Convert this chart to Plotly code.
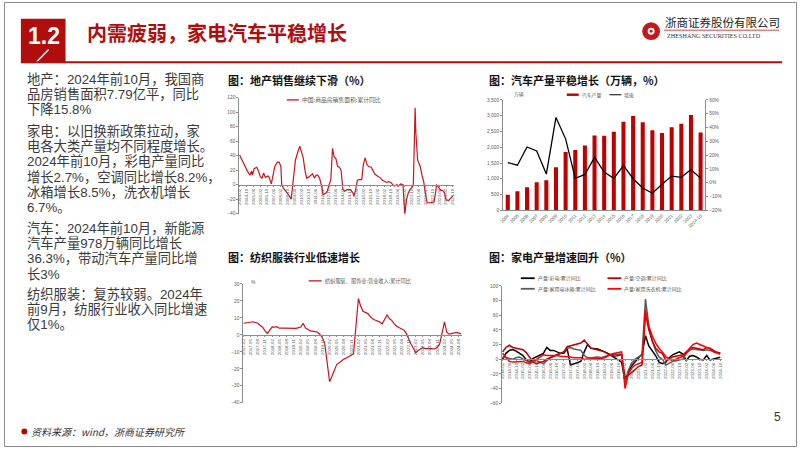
import plotly.graph_objects as go

W, H = 802, 451
def X(p): return p / W
def Y(p): return 1 - p / H

# ---------------- data ----------------
house_dates = [
    "2004-02", "2004-05", "2004-08", "2004-11",
    "2005-02", "2005-04", "2005-05", "2005-07", "2005-10", "2005-12",
    "2006-02", "2006-04", "2006-06", "2006-08", "2006-11", "2006-12",
    "2007-03", "2007-05", "2007-07", "2007-10", "2007-12",
    "2008-02", "2008-03", "2008-05", "2008-08", "2008-11",
    "2009-02", "2009-03", "2009-05", "2009-07", "2009-10", "2009-12",
    "2010-02", "2010-04", "2010-06", "2010-08", "2010-10", "2010-12",
    "2011-03", "2011-05", "2011-07", "2011-09", "2011-11",
    "2012-02", "2012-03", "2012-06", "2012-08", "2012-10", "2012-12",
    "2013-02", "2013-04", "2013-06", "2013-08", "2013-10", "2013-12",
    "2014-02", "2014-04", "2014-07", "2014-11",
    "2015-02", "2015-03", "2015-05", "2015-07", "2015-09", "2015-12",
    "2016-02", "2016-04", "2016-06", "2016-08", "2016-11", "2016-12",
    "2017-03", "2017-05", "2017-08", "2017-10", "2017-12",
    "2018-03", "2018-05", "2018-07", "2018-10", "2018-12",
    "2019-02", "2019-05", "2019-07", "2019-09", "2019-11", "2019-12",
    "2020-02", "2020-04", "2020-06", "2020-08", "2020-11", "2020-12",
    "2021-02", "2021-03", "2021-05", "2021-08", "2021-10", "2021-12",
    "2022-02", "2022-04", "2022-07", "2022-10", "2022-12",
    "2023-02", "2023-03", "2023-05", "2023-08", "2023-10", "2023-12",
    "2024-02", "2024-05", "2024-07", "2024-10",
]
house_yoy = [
    41, 34, 25, 19,
    13, 19, 13, 22, 24, 19,
    11, 9, 16, 10, 12, 11,
    1, 13, 25, 31, 31,
    25, 0, -5, -9, -14,
    -20, -10, 13, 34, 46, 53,
    45, 37, 20, 9, 10, 12,
    15, 9, 13, 13, 9,
    -5, -14, -12, -9, 0, 6,
    50, 38, 36, 25, 24, 20,
    -6, -9, -7, -7,
    -12, -16, -7, 6, 7, 7,
    29, 37, 28, 25, 24, 22,
    15, 13, 11, 9, 6,
    4, 3, 4, 3, 0,
    -2, 0, -2, 1, 0, 0,
    -41, -21, -12, -7, -3, 1,
    106, 70, 34, 25, 13, 4,
    -12, -25, -25, -25, -24,
    -10, 0, -3, -8, -8, -11,
    -21, -22, -19, -15.8,
]

car_years = ["2004", "2005", "2006", "2007", "2008", "2009", "2010", "2011", "2012", "2013",
             "2014", "2015", "2016", "2017", "2018", "2019", "2020", "2021", "2022", "2023", "2024-10"]
car_output = [491, 606, 731, 888, 951, 1369, 1849, 1912, 2058, 2372,
              2361, 2487, 2810, 2988, 2790, 2539, 2455, 2633, 2748, 3019, 2466]
car_growth = [14.6, 12.7, 25.9, 23.0, 6.3, 47.3, 31.8, 3.2, 6.0, 18.4,
              7.7, 3.2, 12.5, 2.9, -3.8, -7.6, -1.1, 4.8, 3.9, 9.6, 3.2]

tex_dates = [
    "2017-02", "2017-04", "2017-06", "2017-08", "2017-09", "2017-10", "2017-11", "2017-12",
    "2018-02", "2018-03", "2018-04", "2018-05", "2018-07", "2018-09", "2018-11", "2018-12",
    "2019-02", "2019-03", "2019-04", "2019-05", "2019-06", "2019-08", "2019-09", "2019-10", "2019-11", "2019-12",
    "2020-02", "2020-03", "2020-04", "2020-05", "2020-06", "2020-07", "2020-08", "2020-09", "2020-10", "2020-11", "2020-12",
    "2021-02", "2021-03", "2021-04", "2021-05", "2021-06", "2021-07", "2021-08", "2021-09", "2021-10", "2021-11", "2021-12",
    "2022-02", "2022-03", "2022-04", "2022-05", "2022-06", "2022-07", "2022-08", "2022-09", "2022-10", "2022-11", "2022-12",
    "2023-02", "2023-03", "2023-04", "2023-05", "2023-06", "2023-07", "2023-08", "2023-09", "2023-10", "2023-11", "2023-12",
    "2024-02", "2024-03", "2024-04", "2024-05", "2024-06", "2024-07", "2024-08", "2024-09",
]
tex_yoy = [
    6.8, 7.2, 7.7, 6.8, 5.6, 4.5, 2.5, 0.8,
    4.7, 4.5, 4.8, 3.9, 3.9, 3.7, 3.5, 3.8,
    4.6, 6.8, 4.0, 2.9, 2.3, 1.9, 1.5, 0.2, -1.7, -5.0,
    -27.6, -24.5, -20.4, -17.5, -16.4, -15.1, -14.3, -13.6, -12.9, -12.0, -11.2,
    21.4, 17.0, 13.8, 13.0, 12.5, 10.8, 9.4, 8.7, 8.3, 7.5, 6.5,
    11.7, 9.6, 8.5, 6.6, 5.1, 4.3, 3.8, 2.9, 1.0, -2.5, -5.2,
    -10.5, -9.2, -8.4, -7.6, -8.1, -7.9, -8.0, -8.3, -8.2, -7.3, -5.5,
    7.6, 1.5, 0.4, 0.7, 1.2, 1.4, 1.0, 0.6,
]

app_dates = [
    "2014-02", "2014-04", "2014-06", "2014-08", "2014-10", "2014-12",
    "2015-02", "2015-04", "2015-06", "2015-08", "2015-10", "2015-12",
    "2016-02", "2016-04", "2016-06", "2016-08", "2016-10", "2016-12",
    "2017-02", "2017-04", "2017-06", "2017-08", "2017-10", "2017-12",
    "2018-02", "2018-04", "2018-06", "2018-08", "2018-10", "2018-12",
    "2019-02", "2019-04", "2019-06", "2019-08", "2019-10", "2019-12",
    "2020-02", "2020-04", "2020-06", "2020-08", "2020-10", "2020-12",
    "2021-02", "2021-04", "2021-06", "2021-08", "2021-10", "2021-12",
    "2022-02", "2022-04", "2022-06", "2022-08", "2022-10", "2022-12",
    "2023-02", "2023-04", "2023-06", "2023-08", "2023-10", "2023-12",
    "2024-02", "2024-04", "2024-06", "2024-08", "2024-10",
]
tv_yoy = [0, 8, 12, 13, 11, 8, 5, -1, -4, 1, 3, 5, 8, 16, 12, 12, 10, 8,
          8, 14, -8, -6, -4, -3, 10, 20, 15, 15, 14, 12, 10, 8, 5, 2, -1, -4,
          -30, -18, -9, -3, 2, 7, 32, 18, 12, 5, -4, -6, -4, 2, 6, 8, 10, 7,
          -2, 4, 5, 3, 0, -1, 5, -1, 0, 1, 2.7]
ac_yoy = [10, 16, 19, 16, 15, 14, 13, 9, 2, -4, -6, -5, -3, 0, 2, 4, 5, 8,
          10, 17, 18, 19, 20, 22, 26, 20, 15, 14, 13, 12, 10, 7, 5, 4, 5, 6,
          -25, -22, -18, -14, -10, -8, 62, 40, 25, 15, 10, 8, -2, 0, 3, 4, 5, 6,
          10, 14, 16, 15, 14, 13, 16, 15, 12, 9, 8.2]
fridge_yoy = [3, 2, 1, 0, 2, 3, 0, -2, -4, -3, -2, -4, -6, -2, 2, 4, 6, 8,
              10, 15, 16, 14, 13, 12, 5, 2, 2, 3, 3, 2, 3, 5, 6, 6, 7, 7,
              -32, -15, -5, 0, 3, 6, 82, 45, 25, 12, 3, 0, -8, -5, -3, -2, -1, 0,
              8, 12, 14, 13, 13, 12, 13, 12, 10, 9, 8.5]
washer_yoy = [8, 2, -3, -4, -4, -4, -3, -5, -6, -3, 0, 3, 6, 5, 5, 6, 5, 4,
              4, 3, 3, 2, 2, 2, 0, 0, 1, 1, 0, 1, 2, 5, 7, 8, 9, 10,
              -40, -20, -12, -8, -6, -4, 68, 45, 32, 22, 15, 10, 3, 0, -2, 0, 2, 4,
              8, 15, 20, 22, 20, 18, 17, 14, 10, 8, 6.7]

left_text = [
    ["地产：2024年前10月，我国商", "品房销售面积7.79亿平，同比", "下降15.8%"],
    ["家电：以旧换新政策拉动，家", "电各大类产量均不同程度增长。", "2024年前10月，彩电产量同比",
     "增长2.7%，空调同比增长8.2%，", "冰箱增长8.5%，洗衣机增长", "6.7%。"],
    ["汽车：2024年前10月，新能源", "汽车产量978万辆同比增长", "36.3%，带动汽车产量同比增", "长3%"],
    ["纺织服装：复苏较弱。2024年", "前9月，纺服行业收入同比增速", "仅1%。"],
]

# ---------------- styles ----------------
RED = "#C00000"
HRED = "#B00D0D"
TXT = "#3A3A3A"
TICK = "#595959"
AXC = "#8C8C8C"
CJK = "Noto Sans CJK SC"
LAT = "Liberation Sans"
MIX = "Liberation Sans, Noto Sans CJK SC"

fig = go.Figure()
fig.add_trace(go.Scatter(x=house_dates, y=house_yoy, mode="lines",
                         line=dict(color="#C8161D", width=1.2), xaxis="x", yaxis="y"))
fig.add_trace(go.Bar(x=car_years, y=car_output, marker=dict(color=RED, line=dict(width=0)),
                     xaxis="x2", yaxis="y2"))
fig.add_trace(go.Scatter(x=car_years, y=car_growth, mode="lines",
                         line=dict(color="black", width=1.3), xaxis="x2", yaxis="y3"))
fig.add_trace(go.Scatter(x=tex_dates, y=tex_yoy, mode="lines",
                         line=dict(color="#C8161D", width=1.2), xaxis="x3", yaxis="y4"))
for vals, col, wd in [(tv_yoy, "#000000", 1.5), (fridge_yoy, "#595959", 1.5),
                      (ac_yoy, "#C00000", 1.5), (washer_yoy, "#FF0000", 1.5)]:
    fig.add_trace(go.Scatter(x=app_dates, y=vals, mode="lines",
                             line=dict(color=col, width=wd), xaxis="x4", yaxis="y5"))


def ax(**kw):
    d = dict(showline=True, linecolor=AXC, linewidth=0.8, ticks="outside", ticklen=2,
             tickwidth=0.7, tickcolor=AXC, showgrid=False, zeroline=False,
             tickfont=dict(family=LAT, size=4.8, color=TICK), fixedrange=True)
    d.update(kw)
    return d

datefont = dict(family=LAT, size=4.4, color=TICK)

layout = dict(
    width=W, height=H, autosize=False,
    margin=dict(l=0, r=0, t=0, b=0),
    paper_bgcolor="white", plot_bgcolor="rgba(0,0,0,0)",
    showlegend=False, bargap=0.58,
    font=dict(family=CJK, color=TXT),
    xaxis=ax(type="date", domain=[X(237), X(453)], anchor="free", position=Y(184.7),
             range=["2004-01-20", "2024-10-25"], dtick="M8", tick0="2004-02-01",
             tickformat="%Y-%m", tickangle=-90, tickfont=datefont, ticklen=1.5),
    yaxis=ax(domain=[Y(214), Y(96.7)], range=[-40, 120], dtick=20, anchor="x"),
    xaxis2=ax(type="category", domain=[X(502.7), X(706.7)], anchor="y2", tickangle=-45,
              ticks="", tickfont=dict(family=LAT, size=4.6, color=TICK)),
    yaxis2=ax(domain=[Y(210.7), Y(99)], range=[0, 3500], dtick=500, tickformat=",", anchor="x2"),
    yaxis3=ax(overlaying="y2", side="right", range=[-20, 60], dtick=10, ticksuffix="%", anchor="x2"),
    xaxis3=ax(type="date", domain=[X(241), X(461)], anchor="free", position=Y(336.7),
              range=["2017-01-28", "2024-09-05"], dtick="M3", tick0="2017-02-01",
              tickformat="%Y-%m", tickangle=-90, tickfont=datefont, ticklen=1.5),
    yaxis4=ax(domain=[Y(405.3), Y(285)], range=[-40, 30], dtick=10, anchor="x3"),
    xaxis4=ax(type="date", domain=[X(501.7), X(723)], anchor="free", position=Y(360.7),
              range=["2014-01-20", "2024-10-25"], dtick="M4", tick0="2014-02-01",
              tickformat="%Y-%m", tickangle=-90, tickfont=datefont, ticklen=1.5),
    yaxis5=ax(domain=[Y(405.7), Y(287)], range=[-60, 100], dtick=20, anchor="x4"),
)
fig.update_layout(**layout)

shapes = []
ann = []

def hline(x0, x1, y, color, width):
    shapes.append(dict(type="line", xref="paper", yref="paper", x0=X(x0), x1=X(x1),
                       y0=Y(y), y1=Y(y), line=dict(color=color, width=width)))

def text(x, y, s, size, color=TXT, family=CJK, xanchor="left", bold=False, italic=False):
    if bold:
        s = "<b>" + s + "</b>"
    if italic:
        s = "<i>" + s + "</i>"
    ann.append(dict(xref="paper", yref="paper", x=X(x), y=Y(y), text=s, showarrow=False,
                    xanchor=xanchor, yanchor="middle", borderpad=0,
                    font=dict(size=size, color=color, family=family)))

# slide border
shapes.append(dict(type="rect", xref="paper", yref="paper", x0=X(0.5), x1=X(798.5),
                   y0=Y(449.5), y1=Y(0.5), line=dict(color="#8A8A8A", width=1)))
# header box "1.2"
shapes.append(dict(type="rect", xref="paper", yref="paper", x0=X(17), x1=X(62),
                   y0=Y(61), y1=Y(17), fillcolor=HRED, line=dict(width=0)))
shapes.append(dict(type="line", xref="paper", yref="paper", x0=X(45), x1=X(32),
                   y0=Y(48), y1=Y(61.5), line=dict(color="white", width=1.5)))
hline(17, 784, 61, HRED, 2)
text(40, 34, "1.2", 23, color="white", family=LAT, xanchor="center", bold=True)
text(83, 30.5, "内需疲弱，家电汽车平稳增长", 20, color=HRED, bold=True)

# logo
shapes.append(dict(type="circle", xref="paper", yref="paper", x0=X(643), x1=X(661),
                   y0=Y(38.5), y1=Y(20.5), fillcolor="#C4161C", line=dict(width=0)))
shapes.append(dict(type="circle", xref="paper", yref="paper", x0=X(648.5), x1=X(655.5),
                   y0=Y(33), y1=Y(26), fillcolor="white", line=dict(width=0)))
shapes.append(dict(type="circle", xref="paper", yref="paper", x0=X(650.5), x1=X(653.5),
                   y0=Y(31), y1=Y(28), fillcolor="#C4161C", line=dict(width=0)))
text(665, 20.5, "浙商证券股份有限公司", 11.5, color="#222222")
hline(665, 781, 28.5, "#C4161C", 0.8)
text(667, 34.3, "ZHESHANG SECURITIES CO.LTD", 6.2, color="#333333", family="Liberation Serif")

# left text: one text block per paragraph
para_first = [77.5, 130.5, 228.5, 296]
step = 15.2
for p, lines in enumerate(left_text):
    body = "<br>".join('<span style="font-size:13.3px">' + s + "</span>" for s in lines)
    mid = para_first[p] + step * (len(lines) - 1) / 2
    ann.append(dict(xref="paper", yref="paper", x=X(22), y=Y(mid), text=body,
                    showarrow=False, xanchor="left", yanchor="middle", align="left",
                    borderpad=0, font=dict(size=step / 1.3, color=TXT, family=MIX)))

# chart titles
text(225, 79, "图：地产销售继续下滑（%）", 11, color="#111111", bold=True)
text(488, 79, "图：汽车产量平稳增长（万辆，%）", 11, color="#111111", bold=True)
text(225, 258, "图：纺织服装行业低速增长", 11, color="#111111", bold=True)
text(488, 258, "图：家电产量增速回升（%）", 11, color="#111111", bold=True)

# chart 1 legend
hline(285, 297, 99, "#C8161D", 1.3)
text(299, 99, "中国:商品房销售面积:累计同比", 5.8, color=TICK)

# chart 2 legend
shapes.append(dict(type="rect", xref="paper", yref="paper", x0=X(567), x1=X(579),
                   y0=Y(95), y1=Y(92.5), fillcolor=RED, line=dict(width=0)))
text(581, 93.8, "汽车产量", 4.8, color=TICK)
hline(610, 622, 93.8, "black", 1)
text(624, 93.8, "增速", 4.8, color=TICK)
text(513, 93.5, "万辆", 4.8, color=TICK)

# chart 3 legend
hline(307, 320, 282, "#C8161D", 1.3)
text(322, 282, "纺织服装、服饰业:营业收入:累计同比", 5.2, color=TICK)
text(247.5, 283, "%", 5, color=TICK, family=LAT)

# chart 4 legend
leg4 = [(520.7, 279.3, "#000000", "产量:彩电:累计同比"),
        (608, 279.3, "#C00000", "产量:空调:累计同比"),
        (520.7, 290, "#595959", "产量:家用电冰箱:累计同比"),
        (608, 290, "#FF0000", "产量:家用洗衣机:累计同比")]
for x0, yy, col, lab in leg4:
    hline(x0, x0 + 14, yy, col, 1.8)
    text(x0 + 16, yy, lab, 5, color=TICK)

# footer
shapes.append(dict(type="circle", xref="paper", yref="paper", x0=X(17.5), x1=X(23.5),
                   y0=Y(437.3), y1=Y(431.3), fillcolor="#C00000", line=dict(width=0)))
text(26, 434.3, "资料来源：wind，浙商证券研究所", 10, color="#333333", italic=True)
text(779, 420, "5", 12, color="#333333", family=LAT, xanchor="center")

fig.update_layout(shapes=shapes, annotations=ann)
fig.write_html("out.html")
